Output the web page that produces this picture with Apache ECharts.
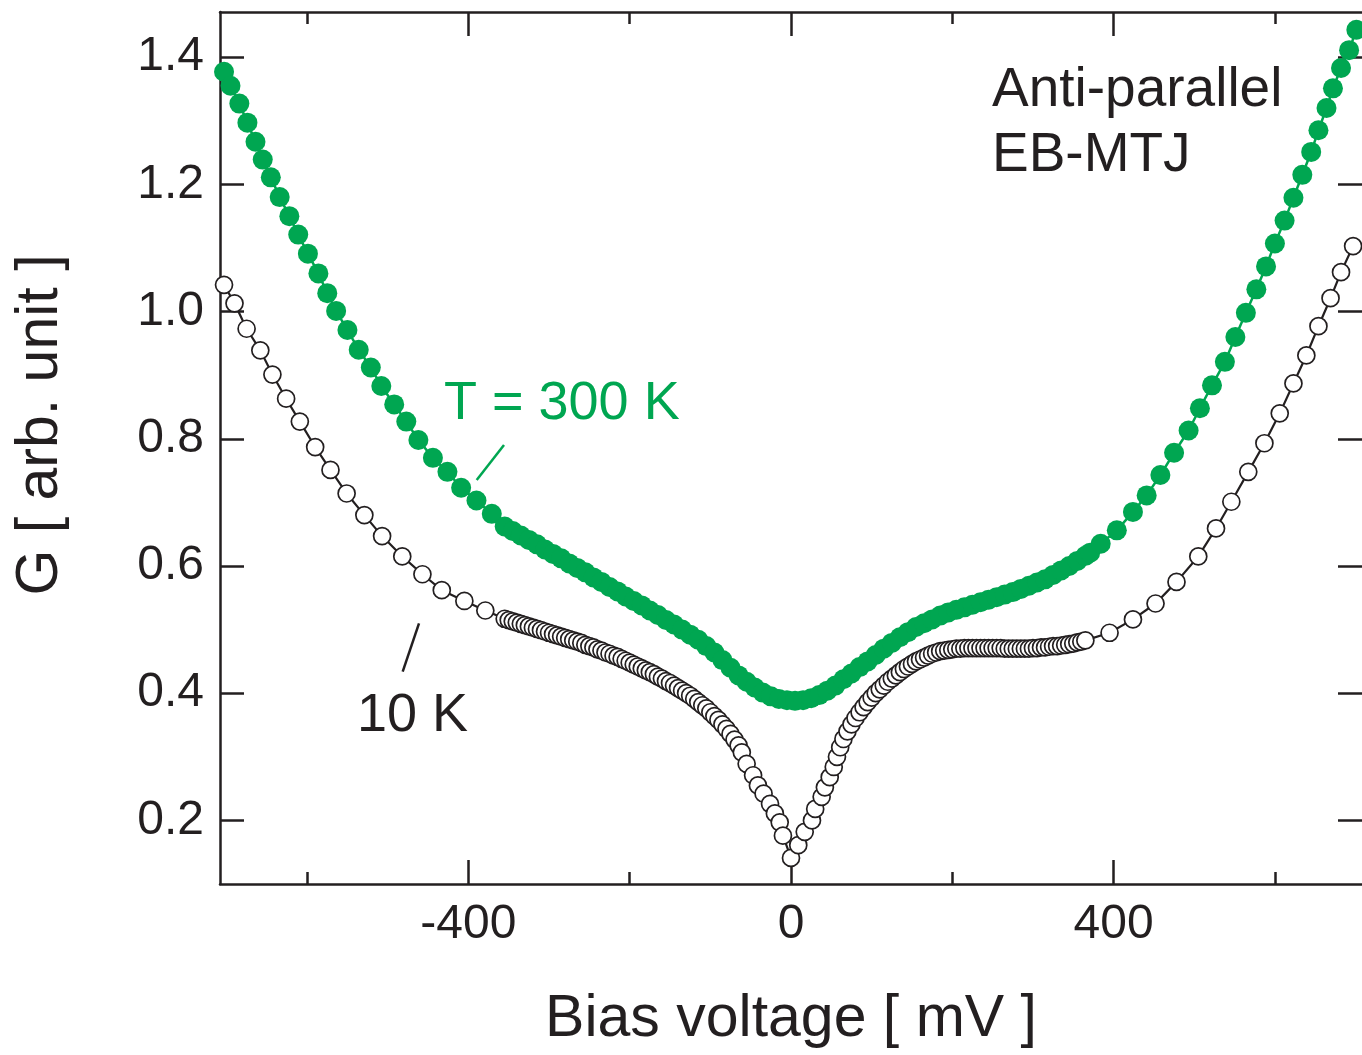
<!DOCTYPE html>
<html>
<head>
<meta charset="utf-8">
<script src="https://cdn.jsdelivr.net/npm/echarts@6/dist/echarts.min.js"></script>
<style>
html,body{margin:0;padding:0;background:#fff;}
#chart{width:1362px;height:1055px;}
</style>
</head>
<body>
<div id="chart"></div>
<script>
// ---- Data ----
// Bias voltage [mV] and conductance G [arb. unit], T = 300 K (green, filled)
const bias300K = [
  -703,-695,-684,-674,-664,-655,-645,-634,-622,-611,-599,-586,-575,-564,-550,-536,-521,-508,-492,-477,-462,-444,-426,-409,-390,-371,
  -355,-345,-335,-325,-315,-305,-295,-285,-275,-265,-255,-245,-235,-225,-215,-205,-195,-185,-175,-165,-155,-145,-135,-125,-115,-105,-95,-85,-75,-65,-55,-45,-35,-25,-15,-5,
  5,15,25,35,45,55,65,75,85,95,105,115,125,135,145,155,165,175,185,195,205,215,225,235,245,255,265,275,285,295,305,315,325,335,345,355,365,371,
  384,404,424,441,458,475,493,507,522,538,551,564,577,589,600,612,623,634,645,654,664,672,682,692,701
];
const g300K = [
  1.377,1.355,1.327,1.297,1.267,1.239,1.211,1.180,1.150,1.121,1.091,1.060,1.029,1.001,0.971,0.940,0.912,0.883,0.854,0.827,0.798,0.770,0.748,0.723,0.703,0.682,
  0.662,0.655,0.648,0.641,0.634,0.626,0.619,0.612,0.604,0.597,0.590,0.582,0.575,0.567,0.560,0.552,0.545,0.538,0.530,0.523,0.515,0.508,0.500,0.492,0.484,0.474,0.464,0.452,0.440,0.428,0.418,0.409,0.401,0.395,0.391,0.389,
  0.388,0.389,0.392,0.397,0.404,0.412,0.422,0.431,0.441,0.450,0.460,0.470,0.479,0.488,0.496,0.504,0.510,0.516,0.522,0.527,0.531,0.535,0.539,0.543,0.547,0.551,0.555,0.559,0.564,0.569,0.574,0.579,0.586,0.593,0.600,0.608,0.616,0.621,
  0.635,0.656,0.685,0.711,0.743,0.778,0.813,0.848,0.884,0.921,0.960,0.998,1.035,1.071,1.107,1.143,1.179,1.215,1.251,1.285,1.320,1.351,1.383,1.411,1.443
];
// T = 10 K (black, open circles)
const bias10K = [
  -703,-690,-675,-658,-643,-626,-609,-590,-571,-551,-529,-507,-482,-457,-433,-405,-379,
  -355,-350,-345,-340,-335,-330,-325,-320,-315,-310,-305,-300,-295,-290,-285,-280,-275,-270,-265,-260,-255,-250,-245,-240,-235,-230,-225,-220,-215,-210,-205,-200,-195,-190,-185,-180,-175,-170,-165,-160,-155,-150,-145,-140,-135,-130,-125,-120,-115,-110,-105,-100,-95,-90,-85,-80,-75,-70,-65,
  -61,-55,-47,-41,-34,-26,-20,-14,-10,0,9,17,26,30,38,42,48,53,57,61,
  65,70,75,80,85,90,95,100,105,110,115,120,125,130,135,140,145,150,155,160,165,170,175,180,185,190,195,200,205,210,215,220,225,230,235,240,245,250,255,260,265,270,275,280,285,290,295,300,305,310,315,320,325,330,335,340,345,350,355,360,365,
  395,424,452,478,505,527,546,567,587,606,623,639,654,669,682,697
];
const g10K = [
  1.042,1.013,0.973,0.939,0.901,0.863,0.827,0.787,0.751,0.714,0.680,0.647,0.615,0.587,0.562,0.545,0.530,
  0.517,0.515,0.513,0.511,0.509,0.507,0.505,0.503,0.501,0.499,0.497,0.495,0.493,0.491,0.489,0.487,0.485,0.483,0.481,0.479,0.476,0.474,0.472,0.469,0.467,0.464,0.462,0.459,0.457,0.454,0.451,0.448,0.445,0.442,0.439,0.436,0.433,0.430,0.426,0.423,0.419,0.416,0.412,0.408,0.404,0.400,0.396,0.391,0.386,0.381,0.376,0.370,0.364,0.358,0.351,0.344,0.336,0.327,0.318,
  0.307,0.289,0.271,0.255,0.242,0.226,0.211,0.197,0.176,0.141,0.161,0.182,0.200,0.218,0.237,0.252,0.268,0.284,0.300,0.315,
  0.328,0.340,0.351,0.361,0.370,0.378,0.386,0.393,0.400,0.406,0.412,0.418,0.423,0.428,0.433,0.438,0.442,0.446,0.450,0.453,0.456,0.459,0.462,0.464,0.466,0.467,0.468,0.469,0.470,0.470,0.471,0.471,0.471,0.471,0.471,0.471,0.471,0.471,0.471,0.471,0.470,0.470,0.470,0.470,0.470,0.470,0.470,0.471,0.471,0.472,0.472,0.473,0.474,0.474,0.475,0.476,0.477,0.478,0.480,0.481,0.483,
  0.495,0.516,0.541,0.575,0.615,0.659,0.701,0.748,0.793,0.840,0.887,0.931,0.977,1.021,1.062,1.103
];
// Axis ticks
const xMajorTicks = [-400, 0, 400];
const xMinorTicks = [-600, -200, 200, 600];
const yTicks = [0.2, 0.4, 0.6, 0.8, 1.0, 1.2, 1.4];

// ---- Chart ----
const INK = '#231f20';
const GREEN = '#00a651';
const FONT = '"Liberation Sans", Arial, Helvetica, sans-serif';
const zip = (a, b) => a.map((v, i) => [v, b[i]]);

const chart = echarts.init(document.getElementById('chart'), null, {renderer: 'canvas'});
const X_MIN = -708, X_MAX = 708;
const Y_MIN = 0.1, Y_MAX = 1.471;
const axisLineStyle = {color: INK, width: 2.5};

function xAx(position, ticks, len, showLine, showLabel, extra) {
  return Object.assign({
    type: 'value', position: position, min: X_MIN, max: X_MAX,
    axisLine: {show: showLine, onZero: false, lineStyle: axisLineStyle},
    axisTick: {show: true, inside: true, length: len, customValues: ticks, lineStyle: {color: INK, width: 2.5}},
    axisLabel: {show: showLabel, customValues: ticks, fontSize: 48, fontFamily: FONT, color: INK, margin: 17},
    splitLine: {show: false}
  }, extra || {});
}

const option = {
  animation: false,
  backgroundColor: '#fff',
  grid: {left: 220, right: 0, top: 12, bottom: 171, containLabel: false, outerBoundsMode: 'none'},
  xAxis: [
    xAx('bottom', xMajorTicks, 24, true, true, {
      name: 'Bias voltage [ mV ]', nameLocation: 'middle', nameGap: 106,
      nameTextStyle: {fontSize: 59, fontFamily: FONT, color: INK}
    }),
    xAx('bottom', xMinorTicks, 12, false, false),
    xAx('top', xMajorTicks, 24, true, false),
    xAx('top', xMinorTicks, 12, false, false)
  ],
  yAxis: [
    {
      type: 'value', position: 'left', min: Y_MIN, max: Y_MAX,
      axisLine: {show: true, onZero: false, lineStyle: axisLineStyle},
      axisTick: {show: true, inside: true, length: 24, customValues: yTicks, lineStyle: {color: INK, width: 2.5}},
      axisLabel: {customValues: yTicks, fontSize: 48, fontFamily: FONT, color: INK, margin: 16,
        formatter: v => v.toFixed(1)},
      splitLine: {show: false},
      name: 'G [ arb. unit ]', nameLocation: 'middle', nameGap: 150,
      nameTextStyle: {fontSize: 59, fontFamily: FONT, color: INK, padding: [0, 0, 0, 46]}
    },
    {
      type: 'value', position: 'right', min: Y_MIN, max: Y_MAX,
      axisLine: {show: false, onZero: false},
      axisTick: {show: true, inside: true, length: 24, customValues: yTicks, lineStyle: {color: INK, width: 2.5}},
      axisLabel: {show: false},
      splitLine: {show: false}
    }
  ],
  series: [
    {
      name: 'T = 300 K', type: 'line', data: zip(bias300K, g300K),
      xAxisIndex: 0, yAxisIndex: 0,
      symbol: 'circle', symbolSize: 20, showSymbol: true, showAllSymbol: true,
      lineStyle: {color: GREEN, width: 2.5},
      itemStyle: {color: GREEN, borderWidth: 0},
      emphasis: {disabled: true}, silent: true, clip: true, z: 2
    },
    {
      name: '10 K', type: 'line', data: zip(bias10K, g10K),
      xAxisIndex: 0, yAxisIndex: 0,
      symbol: 'circle', symbolSize: 17, showSymbol: true, showAllSymbol: true,
      lineStyle: {color: INK, width: 2.2},
      itemStyle: {color: '#ffffff', borderColor: INK, borderWidth: 1.7},
      emphasis: {disabled: true}, silent: true, clip: true, z: 3
    }
  ],
  graphic: [
    {type: 'line', shape: {x1: 476.7, y1: 480, x2: 504, y2: 445}, style: {stroke: GREEN, lineWidth: 2.5}, silent: true},
    {type: 'line', shape: {x1: 402.7, y1: 671.7, x2: 419, y2: 623.3}, style: {stroke: INK, lineWidth: 2.5}, silent: true},
    {type: 'text', x: 444, y: 404, silent: true,
      style: {text: 'T = 300 K', fill: GREEN, font: '54px ' + FONT, textAlign: 'left', textVerticalAlign: 'middle', align: 'left', verticalAlign: 'middle'}},
    {type: 'text', x: 357, y: 716.3, silent: true,
      style: {text: '10 K', fill: INK, font: '54px ' + FONT, textAlign: 'left', textVerticalAlign: 'middle', align: 'left', verticalAlign: 'middle'}},
    {type: 'text', x: 992, y: 91.3, silent: true,
      style: {text: 'Anti-parallel', fill: INK, font: '55px ' + FONT, textAlign: 'left', textVerticalAlign: 'middle', align: 'left', verticalAlign: 'middle'}},
    {type: 'text', x: 992, y: 156.3, silent: true,
      style: {text: 'EB-MTJ', fill: INK, font: '55px ' + FONT, textAlign: 'left', textVerticalAlign: 'middle', align: 'left', verticalAlign: 'middle'}}
  ]
};
chart.setOption(option);
</script>
</body>
</html>
